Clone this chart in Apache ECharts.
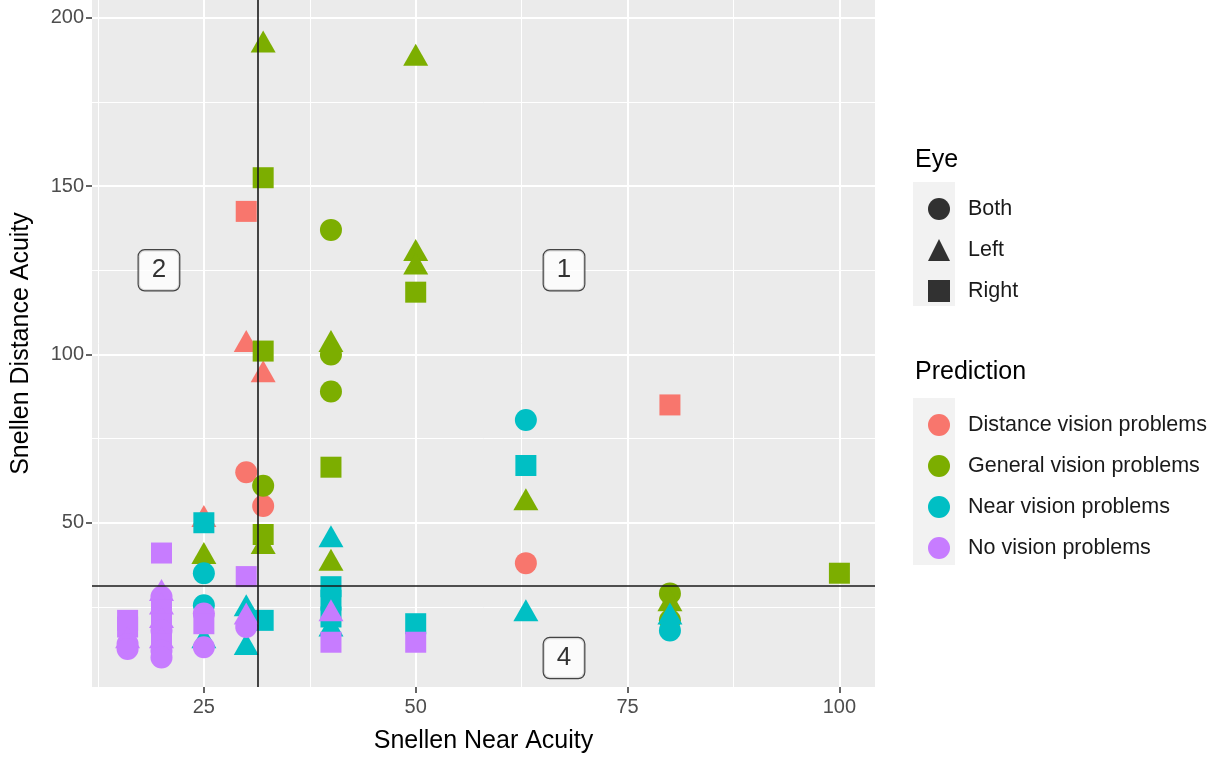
<!DOCTYPE html>
<html><head><meta charset="utf-8">
<script src="https://cdn.jsdelivr.net/npm/echarts@6/dist/echarts.min.js"></script>
<style>html,body{margin:0;padding:0;background:#fff}#c{width:1223px;height:759px}</style>
</head><body><div id="c"></div>
<script>
// ---- data ----
const predictions = ['Distance vision problems','General vision problems','Near vision problems','No vision problems'];
const eyes = ['Both','Left','Right'];
const xTicks = [25,50,75,100];
const yTicks = [50,100,150,200];
const xMinorTicks = [12.5,37.5,62.5,87.5];
const yMinorTicks = [25,75,125,175];
const xRange = [11.8,104.2];
const yRange = [1.2,205.3];
const refNear = 31.4;      // vertical reference line (Snellen Near Acuity)
const refDistance = 31.4;  // horizontal reference line (Snellen Distance Acuity)
const quadrantLabels = [[19.7,125,'2'],[67.5,125,'1'],[67.5,9.8,'4']];

// [near acuity, distance acuity, eye]
const distancePts = [
  [30,142.5,'Right'],[30,104,'Left'],[32,95,'Left'],[30,65,'Both'],[32,55,'Both'],
  [25,52,'Left'],[63,38,'Both'],[80,85,'Right']
];
const generalPts = [
  [32,193,'Left'],[50,189,'Left'],[32,152.5,'Right'],[40,137,'Both'],[50,131,'Left'],
  [50,127,'Left'],[50,118.5,'Right'],[32,101,'Right'],[40,104,'Left'],[40,100,'Both'],
  [40,89,'Both'],[40,66.5,'Right'],[32,61,'Both'],[63,57,'Left'],[32,44,'Left'],
  [32,46.5,'Right'],[25,41,'Left'],[40,39,'Left'],[100,35,'Right'],[80,29,'Both'],
  [80,27,'Left'],[80,21,'Both']
];
const nearPts = [
  [63,80.5,'Both'],[63,67,'Right'],[25,50,'Right'],[40,46,'Left'],[25,35,'Both'],
  [40,31,'Right'],[40,27,'Right'],[25,25.5,'Both'],[30,25.5,'Left'],[63,24,'Left'],
  [80,23,'Left'],[40,22,'Right'],[32,21,'Right'],[50,20,'Right'],[40,19.5,'Left'],
  [80,18,'Both'],[25,16,'Left'],[30,14,'Left']
];
const noPts = [
  [20,41,'Right'],[30,34,'Right'],
  [16,21,'Right'],[16,19,'Right'],[16,16,'Left'],[16,14,'Both'],[16,12.5,'Both'],
  [20,30,'Left'],[20,28,'Both'],[20,26,'Left'],[20,24,'Right'],[20,22,'Left'],
  [20,20,'Right'],[20,18,'Both'],[20,16,'Left'],[20,14,'Right'],[20,12,'Both'],[20,10,'Both'],
  [25,23,'Both'],[25,20,'Right'],[25,13,'Both'],
  [30,23,'Left'],[30,19,'Both'],
  [40,24,'Left'],[40,14.5,'Right'],[50,14.5,'Right']
];
const seriesPoints = [distancePts, generalPts, nearPts, noPts];
const colors = ['#F8766D','#7CAE00','#00BFC4','#C77CFF'];

// ---- styling ----
const FONT = 'Liberation Sans, Arial, sans-serif';
const shapeOf = {Both:'circle', Left:'triangle', Right:'rect'};
const sizeOf = {Both:22, Left:[25,22], Right:21};

const chart = echarts.init(document.getElementById('c'));

const pointSeries = predictions.map((name,i)=>({
  name, type:'scatter', xAxisIndex:0, yAxisIndex:0, z:3,
  itemStyle:{color:colors[i], opacity:1},
  data: seriesPoints[i].map(p=>({value:[p[0],p[1]], symbol:shapeOf[p[2]], symbolSize:sizeOf[p[2]]}))
}));
const eyeSeries = eyes.map(name=>({
  name, type:'scatter', data:[], symbol:shapeOf[name], itemStyle:{color:'#000000'}
}));

const hiddenAxisCommon = {
  type:'value', axisLine:{show:false}, axisLabel:{show:false},
  splitLine:{show:true, lineStyle:{color:'#ffffff', width:1}}
};

chart.setOption({
  animation:false,
  backgroundColor:'#ffffff',
  textStyle:{fontFamily:FONT},
  grid:{left:92, top:0, width:783, height:690, show:true, backgroundColor:'#EBEBEB', borderWidth:0},
  xAxis:[
    {type:'value', min:xRange[0], max:xRange[1], position:'bottom',
     name:'Snellen Near Acuity', nameLocation:'middle', nameGap:42,
     nameTextStyle:{fontSize:25, color:'#000', fontFamily:FONT},
     axisLine:{show:false},
     axisTick:{show:true, length:6, lineStyle:{color:'#333', width:1.5}, customValues:xTicks},
     axisLabel:{fontSize:20, color:'#4D4D4D', margin:10, fontFamily:FONT, customValues:xTicks},
     splitLine:{show:true, lineStyle:{color:'#ffffff', width:2}}},
    Object.assign({min:xRange[0], max:xRange[1], position:'top', axisTick:{show:false, customValues:xMinorTicks}}, hiddenAxisCommon)
  ],
  yAxis:[
    {type:'value', min:yRange[0], max:yRange[1], position:'left',
     name:'Snellen Distance Acuity', nameLocation:'middle', nameGap:58,
     nameTextStyle:{fontSize:25, color:'#000', fontFamily:FONT},
     axisLine:{show:false},
     axisTick:{show:true, length:6, lineStyle:{color:'#333', width:1.5}, customValues:yTicks},
     axisLabel:{fontSize:20, color:'#4D4D4D', margin:8, fontFamily:FONT, customValues:yTicks},
     splitLine:{show:true, lineStyle:{color:'#ffffff', width:2}}},
    Object.assign({min:yRange[0], max:yRange[1], position:'right', axisTick:{show:false, customValues:yMinorTicks}}, hiddenAxisCommon)
  ],
  graphic:[
    {type:'text', left:915, top:148, style:{text:'Eye', fontSize:25, fill:'#000', fontFamily:FONT}},
    {type:'rect', left:913, top:182, shape:{width:42, height:124}, style:{fill:'#F2F2F2'}, z:-1},
    {type:'text', left:915, top:360, style:{text:'Prediction', fontSize:25, fill:'#000', fontFamily:FONT}},
    {type:'rect', left:913, top:398, shape:{width:42, height:167}, style:{fill:'#F2F2F2'}, z:-1}
  ],
  legend:[
    {orient:'vertical', left:923, top:193, itemWidth:22, itemHeight:22, itemGap:19, selectedMode:false,
     data: eyes.map(n=>({name:n, icon:shapeOf[n], itemStyle:{color:'#000000'}})),
     textStyle:{fontSize:21.5, color:'#1a1a1a', fontFamily:FONT, padding:[0,0,0,13]}},
    {orient:'vertical', left:923, top:409, itemWidth:22, itemHeight:22, itemGap:19, selectedMode:false,
     data: predictions.map(n=>({name:n, icon:'circle'})),
     textStyle:{fontSize:21.5, color:'#1a1a1a', fontFamily:FONT, padding:[0,0,0,13]}}
  ],
  series:[
    ...pointSeries,
    ...eyeSeries,
    {name:'refs', type:'scatter', data:[], z:5,
     markLine:{silent:true, symbol:'none', label:{show:false},
       lineStyle:{color:'#1a1a1a', width:1.6, type:'solid'},
       data:[{xAxis:refNear},{yAxis:refDistance}]}},
    {name:'quadrants', type:'scatter', z:6, symbolSize:0,
     data: quadrantLabels.map(q=>({value:[q[0],q[1]], lab:q[2]})),
     label:{show:true, position:'inside', formatter:p=>p.data.lab,
       fontSize:26, color:'#000', fontFamily:FONT, backgroundColor:'#ffffff',
       borderColor:'#1a1a1a', borderWidth:1.2, borderRadius:6, padding:[8,13,6,13]}}
  ]
});
</script></body></html>
